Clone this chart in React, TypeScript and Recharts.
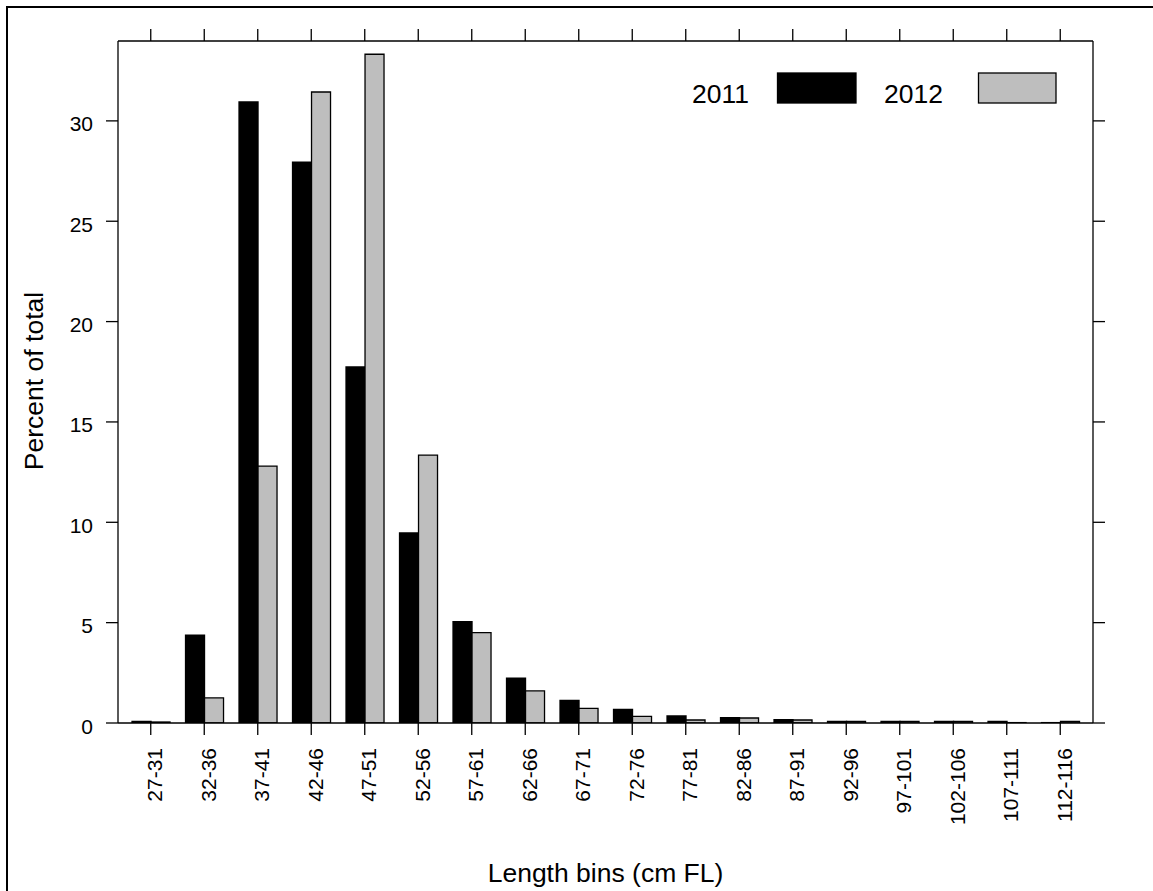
import { BarChart, Bar, XAxis, YAxis, Legend, Label } from "recharts";

const bins = [
  "27-31", "32-36", "37-41", "42-46", "47-51", "52-56", "57-61", "62-66", "67-71",
  "72-76", "77-81", "82-86", "87-91", "92-96", "97-101", "102-106", "107-111", "112-116",
];
const pct2011 = [0.08, 4.38, 30.94, 27.95, 17.74, 9.47, 5.05, 2.23, 1.12, 0.68, 0.35, 0.27, 0.17, 0.08, 0.08, 0.08, 0.08, 0.02];
const pct2012 = [0.05, 1.25, 12.8, 31.44, 33.32, 13.35, 4.5, 1.6, 0.73, 0.33, 0.15, 0.25, 0.15, 0.08, 0.08, 0.08, 0.02, 0.08];
const yTicks = [0, 5, 10, 15, 20, 25, 30];

const data = bins.map((bin, i) => ({ bin, y2011: pct2011[i], y2012: pct2012[i] }));

const FONT = "'Liberation Sans', Arial, sans-serif";
const GREY = "#BEBEBE";

const YTick = (props: any) => {
  const { x, y, payload } = props;
  return (
    <text x={x} y={y + 3} textAnchor="end" dominantBaseline="central" fontSize={21} fontFamily={FONT} fill="#000">
      {payload.value}
    </text>
  );
};

const XTick = (props: any) => {
  const { x, y, payload } = props;
  return (
    <text
      x={x}
      y={y}
      dy={11.5}
      transform={`rotate(-90 ${x} ${y})`}
      textAnchor="end"
      fontSize={21}
      fontFamily={FONT}
      fill="#000"
    >
      {payload.value}
    </text>
  );
};

const LegendBox = () => (
  <svg width={1153} height={120} style={{ display: "block" }}>
    <text x={749} y={103} textAnchor="end" fontSize={26.5} fontFamily={FONT} fill="#000">2011</text>
    <rect x={777.5} y={73} width={78.5} height={30} fill="#000" stroke="#000" strokeWidth={1.3} />
    <text x={884} y={103} textAnchor="start" fontSize={26.5} fontFamily={FONT} fill="#000">2012</text>
    <rect x={978.5} y={73} width={77.5} height={30} fill={GREY} stroke="#000" strokeWidth={1.3} />
  </svg>
);

const axisStroke = { stroke: "#000", strokeWidth: 1.3 };

export default function App() {
  return (
    <div style={{ position: "absolute", left: 0, top: 0, width: 1153, height: 891, overflow: "hidden", background: "#fff" }}>
      <div
        style={{
          position: "absolute",
          left: 6,
          top: 6,
          width: 1200,
          height: 950,
          borderLeft: "2px solid #000",
          borderTop: "2px solid #000",
        }}
      />
      <div style={{ position: "absolute", left: 0, top: 0 }}>
        <BarChart
          width={1153}
          height={891}
          data={data}
          margin={{ top: 0, right: 0, bottom: 0, left: 0 }}
          barCategoryGap="15%"
          barGap={0}
        >
          <XAxis
            xAxisId="bottom"
            dataKey="bin"
            orientation="bottom"
            height={168}
            interval={0}
            padding={{ left: 6, right: 6 }}
            tickSize={12}
            tickMargin={13}
            axisLine={axisStroke}
            tickLine={axisStroke}
            tick={<XTick />}
          >
            <Label
              content={() => (
                <text x={605.5} y={882} textAnchor="middle" fontSize={26.5} fontFamily={FONT} fill="#000">
                  Length bins (cm FL)
                </text>
              )}
            />
          </XAxis>
          <XAxis
            xAxisId="top"
            dataKey="bin"
            orientation="top"
            height={41}
            interval={0}
            padding={{ left: 6, right: 6 }}
            tickSize={12}
            axisLine={axisStroke}
            tickLine={axisStroke}
            tick={() => <g />}
          />
          <YAxis
            yAxisId="left"
            orientation="left"
            width={118}
            domain={[0, 33.98]}
            ticks={yTicks}
            allowDataOverflow
            tickSize={12}
            tickMargin={13}
            axisLine={axisStroke}
            tickLine={axisStroke}
            tick={<YTick />}
          >
            <Label
              content={() => (
                <text
                  x={43}
                  y={381}
                  transform="rotate(-90 43 381)"
                  textAnchor="middle"
                  fontSize={26.5}
                  fontFamily={FONT}
                  fill="#000"
                >
                  Percent of total
                </text>
              )}
            />
          </YAxis>
          <YAxis
            yAxisId="right"
            orientation="right"
            width={60}
            domain={[0, 33.98]}
            ticks={yTicks}
            allowDataOverflow
            tickSize={12}
            axisLine={axisStroke}
            tickLine={axisStroke}
            tick={() => <g />}
          />
          <Legend
            layout="horizontal"
            verticalAlign="middle"
            align="center"
            wrapperStyle={{ position: "absolute", top: 0, left: 0, width: 1153, height: 120 }}
            content={() => <LegendBox />}
          />
          <Bar
            dataKey="y2011"
            name="2011"
            xAxisId="bottom"
            yAxisId="left"
            fill="#000"
            stroke="#000"
            strokeWidth={1.3}
            isAnimationActive={false}
          />
          <Bar
            dataKey="y2012"
            name="2012"
            xAxisId="bottom"
            yAxisId="left"
            fill={GREY}
            stroke="#000"
            strokeWidth={1.3}
            isAnimationActive={false}
          />
        </BarChart>
      </div>
    </div>
  );
}
